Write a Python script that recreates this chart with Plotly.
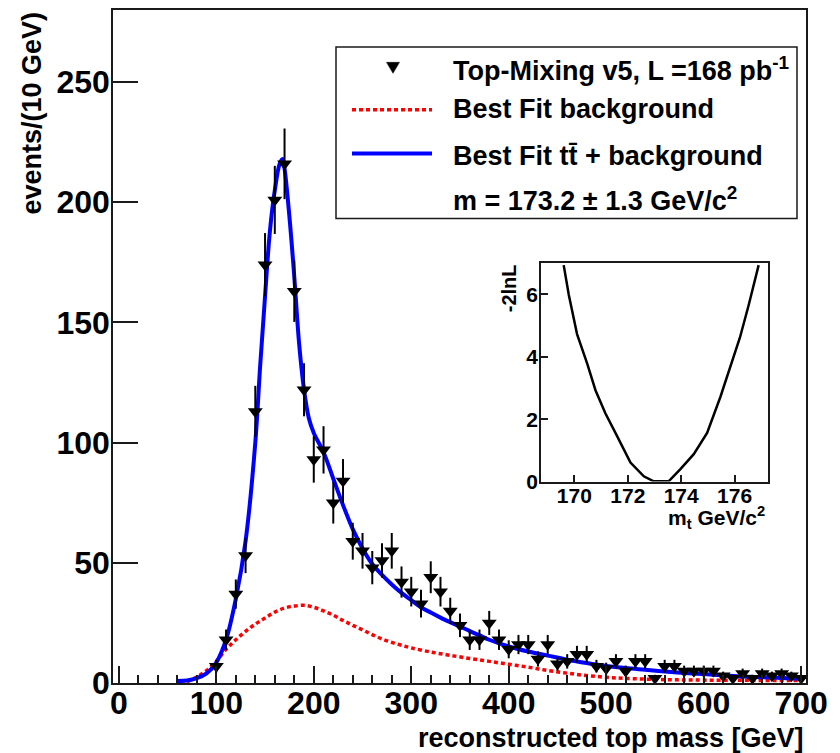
import numpy as np
import plotly.graph_objects as go

# ---- histogram: reconstructed top mass, events per 10 GeV bin ----
mass = list(range(100, 701, 10))
events = [7, 18, 37, 53, 113, 174, 201, 216, 163, 122,
          93, 97, 75, 84, 59, 55, 48, 51, 55, 42,
          38, 33, 44, 38, 30, 24, 18, 18, 25, 18,
          14, 16, 16, 10, 16, 8, 9, 12, 12, 7,
          6, 9, 5, 9, 9, 2, 7, 7, 5, 5,
          5, 5, 3, 2, 4, 2, 4, 3, 4, 3, 2]

# ---- best fit: ttbar + background ----
fit_mass = [60, 70, 80, 90, 100, 110, 120, 130, 140, 145, 150, 155, 160, 165, 168,
            170, 175, 180, 185, 190, 195, 200, 210, 220, 230, 240, 250, 260, 270,
            280, 290, 300, 310, 320, 330, 340, 350, 360, 370, 380, 400, 420, 440,
            460, 480, 500, 520, 540, 560, 580, 600, 620, 640, 660, 680, 700]
fit_total = [0.8, 1.0, 2.0, 4.0, 8.5, 18, 35, 59, 100, 132, 161, 188, 205, 216, 218,
             214, 194, 169, 141, 122, 110, 104, 96, 85, 74, 64, 56, 49.5, 45,
             41, 37.5, 34.5, 31.5, 29.3, 27.2, 25.3, 23.5, 21.6, 19.8, 18, 15.2, 13.1, 11.4,
             9.7, 8.3, 7.1, 6.2, 5.5, 4.8, 4.2, 3.7, 3.2, 2.7, 2.4, 2.1, 1.8]

# ---- best fit: background only ----
bkg_mass = [70, 80, 90, 100, 110, 120, 130, 140, 150, 160, 170, 180, 190, 200,
            210, 220, 230, 240, 250, 260, 270, 280, 290, 300, 320, 340, 360, 380,
            400, 420, 440, 460, 480, 500, 520, 560, 600, 650, 700]
bkg_fit = [0.5, 2.5, 5.2, 9, 14, 18, 21.5, 24.5, 27, 29.5, 31.2, 32, 32.3, 31.5,
           30, 28.2, 26, 24, 22.1, 20.1, 18.3, 16.9, 15.7, 14.6, 12.9, 11.5, 10.2, 9.0,
           7.8, 6.6, 5.2, 4.1, 3.1, 2.4, 1.9, 1.4, 1.2, 1.1, 1.0]

# ---- likelihood scan (-2 ln L) versus top mass ----
mt_scan = [169.6, 169.79, 170.1, 170.48, 170.79, 171.16, 171.6, 172.1, 172.6, 172.97,
           173.53, 173.97, 174.47, 174.97, 175.47, 175.84, 176.2, 176.53, 176.9]
nll_scan = [6.94, 5.99, 4.73, 3.78, 2.93, 2.19, 1.46, 0.61, 0.17, 0.01,
            0.01, 0.4, 0.88, 1.56, 2.72, 3.67, 4.62, 5.67, 6.94]

W, H = 840, 753
ML, MR, MT, MB = 113, 34, 8, 70
PW, PH = W - ML - MR, H - MT - MB

def px_x(p):
    return (p - ML) / PW

def px_y(p):
    return (H - MB - p) / PH

FONT = "Liberation Sans"
INK = "#1a1a1a"

fig = go.Figure()

fig.add_trace(go.Scatter(
    x=bkg_mass, y=bkg_fit, mode="lines", line_shape="spline",
    line=dict(color="#ff0000", width=3.5, dash="4px,3px"),
    showlegend=False, hoverinfo="skip"))

fig.add_trace(go.Scatter(
    x=fit_mass, y=fit_total, mode="lines", line_shape="spline",
    line=dict(color="#0000ff", width=4),
    showlegend=False, hoverinfo="skip"))

fig.add_trace(go.Scatter(
    x=mass, y=events, mode="markers",
    marker=dict(symbol="triangle-down", size=13, color="black"),
    error_y=dict(type="data", array=np.sqrt(events), color="black", thickness=2, width=0),
    showlegend=False, hoverinfo="skip"))

fig.add_trace(go.Scatter(
    x=mt_scan, y=nll_scan, mode="lines", xaxis="x2", yaxis="y2",
    line=dict(color="black", width=2.5),
    showlegend=False, hoverinfo="skip"))

fig.update_layout(
    width=W, height=H,
    margin=dict(l=ML, r=MR, t=MT, b=MB, pad=0),
    paper_bgcolor="white", plot_bgcolor="white",
    font=dict(family=FONT, color="black", weight="bold"),
    xaxis=dict(
        range=[-6, 705], tickmode="array", tickvals=list(range(0, 701, 100)),
        ticks="inside", ticklen=17, tickwidth=1.5, tickcolor=INK,
        minor=dict(dtick=20, ticks="inside", ticklen=8, tickwidth=1.5, tickcolor=INK),
        showline=True, linecolor=INK, linewidth=1.5, mirror=True,
        showgrid=False, zeroline=False,
        tickfont=dict(size=32, family=FONT, weight="bold"),
        ticklabelstandoff=-9),
    yaxis=dict(
        range=[0, 280], tickmode="array", tickvals=list(range(0, 251, 50)),
        ticks="inside", ticklen=25, tickwidth=1.5, tickcolor=INK,
        showline=True, linecolor=INK, linewidth=1.5, mirror=True,
        showgrid=False, zeroline=False,
        tickfont=dict(size=32, family=FONT, weight="bold"),
        ticklabelstandoff=-5),
    xaxis2=dict(
        domain=[px_x(541), px_x(768)], anchor="y2",
        range=[168.75, 177.25], tickmode="array", tickvals=[170, 172, 174, 176],
        ticks="inside", ticklen=7, tickwidth=1.5, tickcolor=INK,
        showline=True, linecolor=INK, linewidth=1.5, mirror=True,
        showgrid=False, zeroline=False,
        tickfont=dict(size=21, family=FONT, weight="bold"),
        ticklabelstandoff=-6),
    yaxis2=dict(
        domain=[px_y(481), px_y(262)], anchor="x2",
        range=[0, 7], tickmode="array", tickvals=[0, 2, 4, 6],
        ticks="inside", ticklen=7, tickwidth=1.5, tickcolor=INK,
        showline=True, linecolor=INK, linewidth=1.5, mirror=True,
        showgrid=False, zeroline=False,
        tickfont=dict(size=21, family=FONT, weight="bold"),
        ticklabelstandoff=-3),
)

# legend frame and keys
lx0, lx1 = 352, 432
shapes = [
    dict(type="rect", xref="paper", yref="paper",
         x0=px_x(336), x1=px_x(797), y0=px_y(217), y1=px_y(45),
         line=dict(color=INK, width=1.5), fillcolor="white", layer="below"),
    dict(type="line", xref="paper", yref="paper",
         x0=px_x(lx0), x1=px_x(lx1), y0=px_y(108), y1=px_y(108),
         line=dict(color="#ff0000", width=3.5, dash="4px,3px")),
    dict(type="line", xref="paper", yref="paper",
         x0=px_x(lx0), x1=px_x(lx1), y0=px_y(152), y1=px_y(152),
         line=dict(color="#0000ff", width=4)),
    dict(type="path", xref="paper", yref="paper",
         path="M {a},{b} L {c},{b} L {d},{e} Z".format(
             a=px_x(386.5), c=px_x(399.5), b=px_y(60.5), d=px_x(393), e=px_y(71.5)),
         fillcolor="black", line=dict(color="black", width=0.5)),
]
fig.update_layout(shapes=shapes)

LEG = 27
ann = []
legend_rows = [
    ("Top-Mixing v5, L =168 pb<sup>-1</sup>", 67),
    ("Best Fit background", 107),
    ("Best Fit tt\u0304 + background", 154),
    ("m = 173.2 \u00b1 1.3 GeV/c<sup>2</sup>", 198),
]
for txt, yy in legend_rows:
    ann.append(dict(text=txt, xref="paper", yref="paper", x=px_x(451), y=px_y(yy),
                    xanchor="left", yanchor="middle", showarrow=False,
                    font=dict(size=LEG, family=FONT, weight="bold")))

ann.append(dict(text="events/(10 GeV)", xref="paper", yref="paper",
                x=px_x(31), y=px_y(8), xanchor="center", yanchor="top",
                textangle=-90, showarrow=False,
                font=dict(size=27, family=FONT, weight="bold")))
ann.append(dict(text="reconstructed top mass [GeV]", xref="paper", yref="paper",
                x=px_x(806), y=px_y(738), xanchor="right", yanchor="middle",
                showarrow=False, font=dict(size=27, family=FONT, weight="bold")))
ann.append(dict(text="m<sub>t</sub> GeV/c<sup>2</sup>", xref="paper", yref="paper",
                x=px_x(767), y=px_y(517), xanchor="right", yanchor="middle",
                showarrow=False, font=dict(size=21, family=FONT, weight="bold")))
ann.append(dict(text="-2lnL", xref="paper", yref="paper",
                x=px_x(509), y=px_y(261), xanchor="center", yanchor="top",
                textangle=-90, showarrow=False,
                font=dict(size=20, family=FONT, weight="bold")))
fig.update_layout(annotations=ann)

fig.write_html("out.html")
